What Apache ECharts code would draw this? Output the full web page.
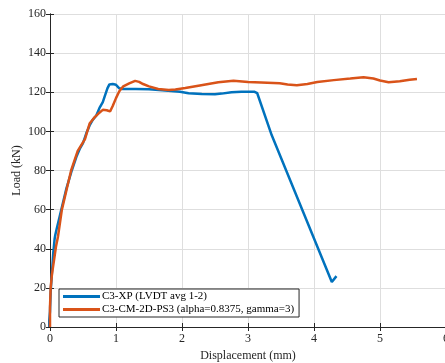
<!DOCTYPE html>
<html>
<head>
<meta charset="utf-8">
<script src="https://cdn.jsdelivr.net/npm/echarts@6/dist/echarts.min.js"></script>
<style>html,body{margin:0;padding:0;background:#fff;}#c{width:445px;height:363px;}</style>
</head>
<body>
<div id="c"></div>
<script>
const seriesNames = ['C3-XP (LVDT avg 1-2)', 'C3-CM-2D-PS3 (alpha=0.8375, gamma=3)'];
const xTicks = [0, 1, 2, 3, 4, 5, 6];
const yTicks = [0, 20, 40, 60, 80, 100, 120, 140, 160];
const blueData = [[-0.02,0],[0,8],[0.01,18],[0.03,28],[0.05,38],[0.07,45],[0.08,47],[0.1,50],[0.15,57],[0.2,64],[0.25,71],[0.33,80],[0.4,87],[0.45,91],[0.5,94],[0.55,99],[0.6,103],[0.65,106],[0.7,108],[0.75,112],[0.8,115],[0.83,118],[0.87,122],[0.9,124],[0.95,124.2],[1.0,123.8],[1.05,122],[1.1,121.7],[1.3,121.6],[1.5,121.5],[1.7,121],[1.97,120.3],[2.1,119.5],[2.3,119.1],[2.5,119],[2.6,119.3],[2.75,120],[2.9,120.2],[3.1,120.2],[3.14,119.5],[3.36,98],[4.27,23],[4.34,26]];
const orangeData = [[0,0],[0,10],[0.01,20],[0.03,27],[0.06,34],[0.09,41],[0.12,46],[0.18,60],[0.25,70],[0.32,80],[0.42,90],[0.53,96],[0.6,104],[0.67,107],[0.73,109],[0.8,111],[0.86,110.8],[0.91,110.2],[0.95,113],[1.0,117],[1.05,120.5],[1.11,123],[1.2,124.5],[1.29,125.8],[1.35,125.3],[1.41,124.2],[1.5,123],[1.64,121.7],[1.8,121.2],[1.9,121.4],[2.05,122.2],[2.27,123.5],[2.55,125.1],[2.78,125.9],[3.0,125.2],[3.2,125],[3.48,124.6],[3.6,124],[3.74,123.6],[3.9,124.2],[4.05,125.2],[4.3,126.2],[4.55,127],[4.75,127.7],[4.9,127],[5.0,126],[5.13,125.1],[5.3,125.6],[5.45,126.4],[5.56,126.8]];

const axisColor = '#262626';
const font = 'Liberation Serif';
const chart = echarts.init(document.getElementById('c'));
const baseAxis = {
  axisLine: {show: true, lineStyle: {color: axisColor, width: 1}},
  axisTick: {show: true, inside: true, length: 4, lineStyle: {color: axisColor}},
  splitLine: {show: false}
};
chart.setOption({
  animation: false,
  grid: {left: 50, top: 14, width: 396, height: 313, containLabel: false, outerBoundsMode: 'none'},
  legend: {
    left: 59, top: 289, orient: 'vertical',
    backgroundColor: '#fff', borderColor: axisColor, borderWidth: 1, borderRadius: 0,
    padding: [2, 5, 2, 4], itemGap: 2, itemWidth: 37, itemHeight: 3, icon: 'rect',
    textStyle: {fontFamily: font, fontSize: 11, color: '#000', padding: [0,0,0,-3]},
    data: seriesNames
  },
  xAxis: [
    Object.assign({}, baseAxis, {
      type: 'value', min: 0, max: 6, interval: 1, position: 'bottom',
      name: 'Displacement (mm)', nameLocation: 'middle', nameGap: 23, nameMoveOverlap: false,
      nameTextStyle: {fontFamily: font, fontSize: 12, color: axisColor},
      axisLabel: {fontFamily: font, fontSize: 12, color: axisColor, margin: 6, formatter: v => xTicks.includes(v) ? String(v) : ''},
      splitLine: {show: true, lineStyle: {color: '#dedede', width: 1}}
    }),
    Object.assign({}, baseAxis, {
      type: 'value', min: 0, max: 6, interval: 1, position: 'top', axisLabel: {show: false}
    })
  ],
  yAxis: [
    Object.assign({}, baseAxis, {
      type: 'value', min: 0, max: 160, interval: 20, position: 'left',
      name: 'Load (kN)', nameLocation: 'middle', nameGap: 27, nameMoveOverlap: false,
      nameTextStyle: {fontFamily: font, fontSize: 12, color: axisColor},
      axisLabel: {fontFamily: font, fontSize: 12, color: axisColor, margin: 4, formatter: v => yTicks.includes(v) ? String(v) : ''},
      splitLine: {show: true, lineStyle: {color: '#dedede', width: 1}}
    }),
    Object.assign({}, baseAxis, {
      type: 'value', min: 0, max: 160, interval: 20, position: 'right', axisLabel: {show: false}
    })
  ],
  series: [
    {name: seriesNames[0], type: 'line', data: blueData, symbol: 'none', color: '#0072BD',
     lineStyle: {width: 2.5, color: '#0072BD'}, z: 3},
    {name: seriesNames[1], type: 'line', data: orangeData, symbol: 'none', color: '#D95319',
     lineStyle: {width: 2.5, color: '#D95319'}, z: 4}
  ]
});
</script>
</body>
</html>
